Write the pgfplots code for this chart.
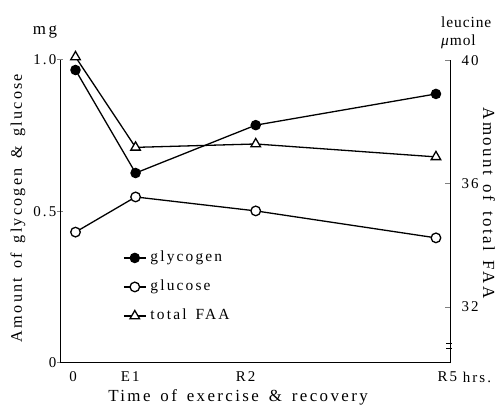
\documentclass[border=0pt]{standalone}
\usepackage{fontspec}
\setmainfont{Liberation Serif}[LetterSpace=14, WordSpace=1.5]
\newfontfamily\tightfont{Liberation Serif}[LetterSpace=6]
\usepackage{pgfplots}
\pgfplotsset{compat=1.18}
\newcommand\lblfont{\fontsize{17}{18}\selectfont}
\newcommand\tfont{\fontsize{15}{16}\selectfont}
\newcommand\legfont{\fontsize{15.5}{16}\selectfont}
\begin{document}
\begin{tikzpicture}
\path[use as bounding box] (-60bp,-42bp) rectangle (438bp,363bp);
\begin{axis}[
  at={(0bp,0bp)}, anchor=south west,
  scale only axis, width=390.5bp, height=303bp,
  xmin=-0.258, xmax=6.242, ymin=0, ymax=1.0,
  clip=false,
  axis x line*=bottom, axis y line*=left,
  x axis line style={-, line width=1bp},
  y axis line style={-, line width=1bp},
  xtick={-0.04,0.91,2.83,6.19}, xticklabels={0,E1,R2,R5},
  x tick style={draw=none},
  ytick={0,0.5,1.0}, yticklabels={0,0.5,1.0},
  y tick style={line width=1bp}, tick align=center, major tick length=5bp,
  tick label style={font=\tfont},
  xticklabel style={inner sep=2bp, yshift=-4bp},
  yticklabel style={inner sep=1bp},
  legend cell align=left,
  legend image code/.code={\draw[mark repeat=2,mark phase=2,#1] plot coordinates {(0bp,0bp)(11bp,0bp)(22bp,0bp)};},
  legend style={draw=none, fill=none, font=\legfont, at={(axis cs:0.79,0.251)}, anchor=west,
    inner sep=0bp, row sep=14bp, column sep=4bp,
    nodes={inner sep=0bp, text height=11bp, text depth=4bp}},
]
\addplot[black, line width=1.3bp, mark=*, mark size=4.6bp, mark options={fill=black}]
  coordinates {(0,0.967)(1,0.627)(3,0.785)(6,0.888)};
\addlegendentry{glycogen}
\addplot[black, line width=1.3bp, mark=*, mark size=4.8bp, mark options={fill=white}]
  coordinates {(0,0.432)(1,0.548)(3,0.502)(6,0.413)};
\addlegendentry{glucose}
\addlegendimage{black, line width=1.3bp, mark=triangle*, mark size=5.5bp, mark options={fill=white}}
\addlegendentry{total FAA}
\end{axis}
\begin{axis}[
  at={(0bp,0bp)}, anchor=south west,
  scale only axis, width=390.5bp, height=303bp,
  xmin=-0.258, xmax=6.242, ymin=30.18, ymax=40.03,
  clip=false,
  axis x line=none, axis y line*=right,
  y axis line style={-, line width=1bp},
  ytick={32,36,40}, yticklabels={32,36,40},
  y tick style={line width=1bp}, tick align=inside, major tick length=5bp,
  tick label style={font=\tfont},
  yticklabel style={inner sep=2bp, xshift=9bp},
]
\addplot[black, line width=1.3bp, mark=triangle*, mark size=5.5bp, mark options={fill=white}]
  coordinates {(0,40.13)(1,37.19)(3,37.30)(6,36.88)};
\draw[line width=1bp] ([xshift=-4bp,yshift=19bp]rel axis cs:1,0) -- ([xshift=2bp,yshift=19bp]rel axis cs:1,0);
\draw[line width=1bp] ([xshift=-4bp,yshift=14bp]rel axis cs:1,0) -- ([xshift=2bp,yshift=14bp]rel axis cs:1,0);
\end{axis}
\node[font=\fontsize{16.2}{17}\selectfont, rotate=90] at (-42bp,155bp) {Amount of glycogen \& glucose};
\node[font=\lblfont, rotate=-90] at (429bp,160bp) {Amount of total FAA};
\node[font=\lblfont] at (178bp,-34bp) {Time of exercise \& recovery};
\node[font=\lblfont] at (-15bp,331bp) {mg};
\node[font=\tightfont\fontsize{15.5}{16}\selectfont, anchor=west, inner sep=0bp] at (381bp,341bp) {leucine};
\node[font=\tightfont\fontsize{15.5}{16}\selectfont, anchor=west, inner sep=0bp] at (381bp,321bp) {\textit{μ}mol};
\node[font=\tfont] at (417bp,-14bp) {hrs.};
\end{tikzpicture}
\end{document}
